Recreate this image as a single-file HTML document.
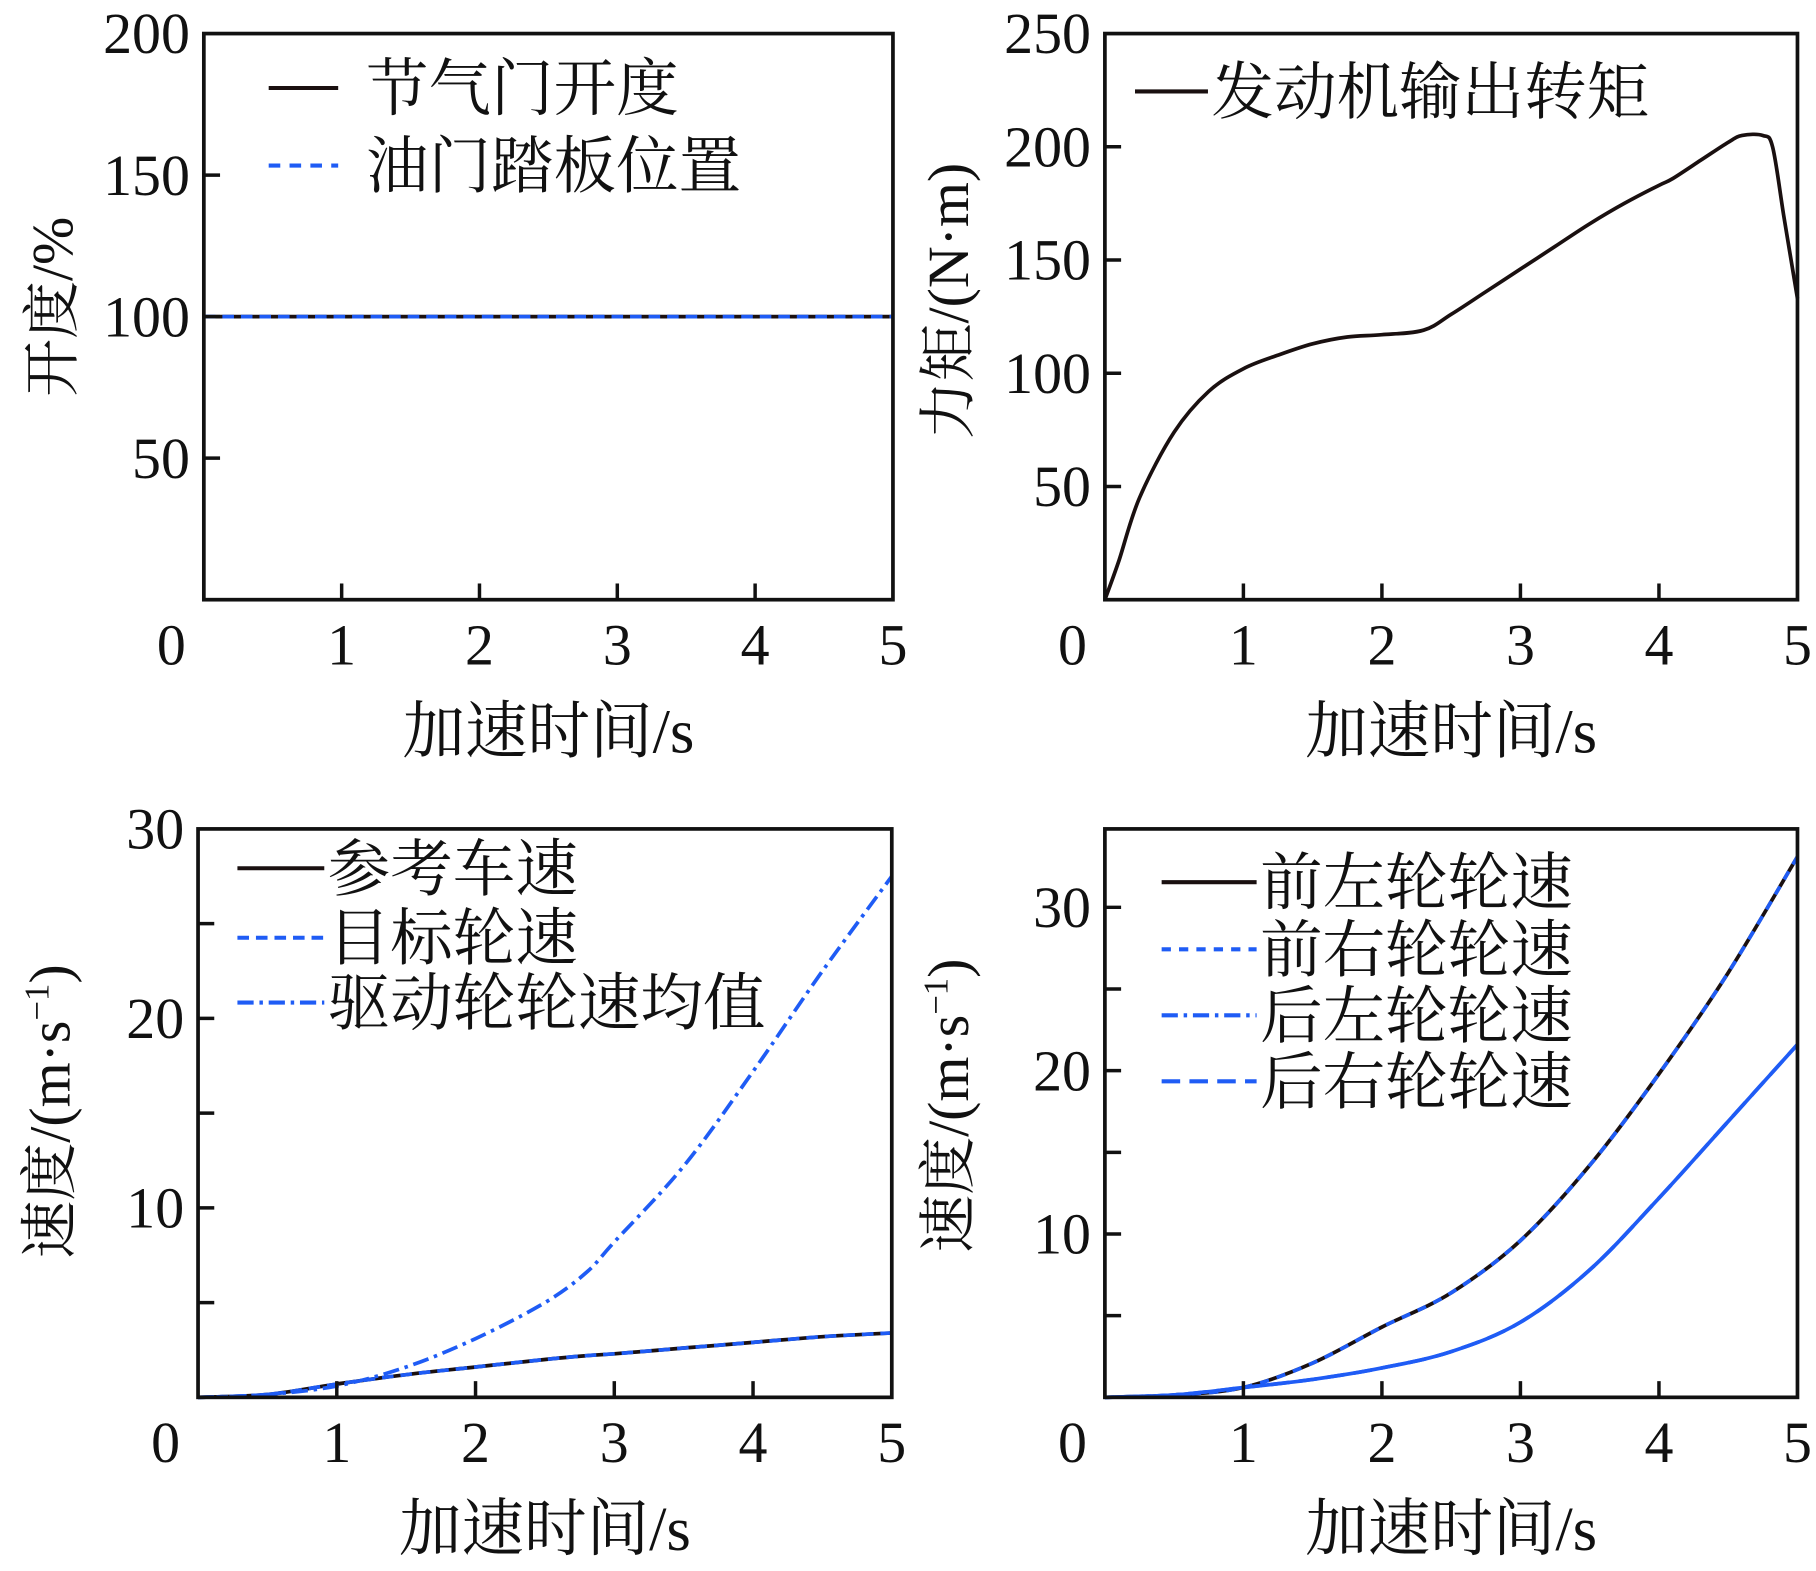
<!DOCTYPE html>
<html><head><meta charset="utf-8"><style>
html,body{margin:0;padding:0;background:#fff;}
svg{display:block;}
text{font-family:"Liberation Serif","Noto Serif CJK SC",serif;fill:#111;}
</style></head><body>
<svg id="fig" width="1816" height="1571" viewBox="0 0 1568 1357" preserveAspectRatio="none" xmlns="http://www.w3.org/2000/svg"></svg>
<script>
// Panel A: throttle
const tA = [0, 5];
const throttleVals = [100, 100];
const pedalVals = [100, 100];
const ticksA = [50, 100, 150, 200];
// Panel B: torque
const tB = [0,0.1,0.25,0.5,0.75,1,1.25,1.5,1.75,2,2.3,2.5,2.75,3,3.25,3.5,3.75,4,4.1,4.3,4.5,4.6,4.75,4.82,4.9,5];
const torqueVals = [0,17,45,74,92,102,108,113,116,117,119,126,136,146,156,166,175,183,186,194,202,205,205,200,170,133];
const ticksB = [50,100,150,200,250];
// Panel C
const tC = [0,0.5,1,1.5,2,2.5,2.8,3,3.5,4,4.5,5];
const refSpeed = [0,0.15,0.7,1.2,1.6,2.0,2.2,2.3,2.6,2.9,3.2,3.4];
const targetSpeed = [0,0.15,0.7,1.2,1.6,2.0,2.2,2.3,2.6,2.9,3.2,3.4];
const driveAvg = [0,0.15,0.6,1.6,3.1,5.0,6.6,8.2,12.2,17.2,22.5,27.5];
const ticksC = [10,20,30];
// Panel D
const tD = [0,0.5,1,1.5,2,2.5,3,3.5,4,4.5,5];
const frontLeft = [0,0.15,0.6,2.1,4.3,6.4,9.6,14.2,19.8,26,33.1];
const frontRight = [0,0.15,0.6,2.1,4.3,6.4,9.6,14.2,19.8,26,33.1];
const rearLeft = [0,0.15,0.6,1.1,1.8,2.8,4.6,7.8,12.2,16.9,21.6];
const rearRight = [0,0.15,0.6,1.1,1.8,2.8,4.6,7.8,12.2,16.9,21.6];
const ticksD = [10,20,30];
const xTicks = [0,1,2,3,4,5];

const NS="http://www.w3.org/2000/svg";
const svg=document.getElementById('fig');
const BLK="#1a1010", BLUE="#1f5cf5";
function mk(tag,attrs,parent){const e=document.createElementNS(NS,tag);for(const k in attrs)e.setAttribute(k,attrs[k]);(parent||svg).appendChild(e);return e;}
function smooth(pts){
  if(pts.length<3) return pts.map((p,i)=>(i?'L':'M')+p[0].toFixed(1)+','+p[1].toFixed(1)).join('');
  let d='M'+pts[0][0].toFixed(1)+','+pts[0][1].toFixed(1);
  for(let i=0;i<pts.length-1;i++){
    const p0=pts[Math.max(i-1,0)],p1=pts[i],p2=pts[i+1],p3=pts[Math.min(i+2,pts.length-1)];
    const c1=[p1[0]+(p2[0]-p0[0])/6,p1[1]+(p2[1]-p0[1])/6];
    const c2=[p2[0]-(p3[0]-p1[0])/6,p2[1]-(p3[1]-p1[1])/6];
    d+='C'+c1.map(v=>v.toFixed(1)).join(',')+' '+c2.map(v=>v.toFixed(1)).join(',')+' '+p2[0].toFixed(1)+','+p2[1].toFixed(1);
  }
  return d;
}

function panel(o){
  const g=mk('g',{});
  
  
  const sx=v=>o.x0+(v/5)*(o.x1-o.x0);
  const sy=v=>o.y1-(v/o.ymax)*(o.y1-o.y0);
  o.series.forEach(s=>{
    const pts=s.x.map((t,i)=>[sx(t),sy(s.y[i])]);
    const p=mk('path',{d:smooth(pts),fill:'none',stroke:s.c,'stroke-width':3.2,'stroke-dasharray':s.dash||'none'},g);
    
    
  });
  const fr=mk('rect',{x:o.x0,y:o.y0,width:o.x1-o.x0,height:o.y1-o.y0,fill:'none',stroke:'#111','stroke-width':3.2},g);
  
  
  xTicks.forEach(v=>{
    if(v>0&&v<5) mk('line',{x1:sx(v),x2:sx(v),y1:o.y1,y2:o.y1-14,stroke:'#111','stroke-width':3},g);
    const t=mk('text',{x:v==0?o.x0-28:sx(v),y:o.y1+56,'font-size':50,'text-anchor':'middle'},g);
    t.textContent=v;
    
    
  });
  o.ticks.forEach(v=>{
    if(sy(v)>o.y0+2) mk('line',{x1:o.x0,x2:o.x0+14,y1:sy(v),y2:sy(v),stroke:'#111','stroke-width':3},g);
    const t=mk('text',{x:o.x0-12,y:sy(v)+17,'font-size':50,'text-anchor':'end'},g);
    t.textContent=v;
    
    
  });
  (o.minor||[]).forEach(v=>mk('line',{x1:o.x0,x2:o.x0+14,y1:sy(v),y2:sy(v),stroke:'#111','stroke-width':3},g));
  const xl=mk('text',{x:(o.x0+o.x1)/2,y:o.y1+132,'font-size':54,'text-anchor':'middle'},g);
  xl.textContent='加速时间/s';
  
  
  const yl=mk('text',{x:0,y:0,'font-size':50,'text-anchor':'middle',transform:`translate(${o.ylx},${o.yly}) rotate(-90)`},g);
  yl.innerHTML=o.ylabel;
  
  
  o.legend.forEach(l=>{
    const lg=mk('g',{},g);
    
    
    mk('line',{x1:l.lx0,x2:l.lx1,y1:l.y,y2:l.y,stroke:l.c,'stroke-width':3.5,'stroke-dasharray':l.dash||'none'},lg);
    const t=mk('text',{x:l.tx,y:l.y+19,'font-size':54},lg);
    t.textContent=l.text;
  });
}

panel({name:'throttle-panel',x0:176,x1:771,y0:29,y1:518,ymax:200,ticks:ticksA,ylx:62,yly:265,ylabel:'开度/%',
  series:[{name:'throttle-line',x:tA,y:throttleVals,c:BLK},{name:'pedal-line',x:tA,y:pedalVals,c:BLUE,dash:'10,6'}],
  legend:[{lx0:232,lx1:292,y:76,c:BLK,tx:316,text:'节气门开度'},{lx0:232,lx1:292,y:143,c:BLUE,dash:'10,8',tx:316,text:'油门踏板位置'}]});
panel({name:'torque-panel',x0:954,x1:1552,y0:29,y1:518,ymax:250,ticks:ticksB,ylx:836,yly:260,ylabel:'力矩/(N·m)',
  series:[{name:'torque-line',x:tB,y:torqueVals,c:BLK}],
  legend:[{lx0:980,lx1:1043,y:79,c:BLK,tx:1046,text:'发动机输出转矩'}]});
panel({name:'speed-panel-left',x0:171,x1:770,y0:716,y1:1207,ymax:30,ticks:ticksC,minor:[5,15,25],ylx:60,yly:960,ylabel:'速度/(m·s<tspan dy="-18" font-size="30">−1</tspan><tspan dy="18">)</tspan>',
  series:[{name:'reference-speed-line',x:tC,y:refSpeed,c:BLK},{name:'target-wheel-speed-line',x:tC,y:targetSpeed,c:BLUE,dash:'10,6'},{name:'drive-wheel-avg-line',x:tC,y:driveAvg,c:BLUE,dash:'14,5,3,5'}],
  legend:[{lx0:205,lx1:280,y:750,c:BLK,tx:283,text:'参考车速'},{lx0:205,lx1:280,y:810,c:BLUE,dash:'10,6',tx:283,text:'目标轮速'},{lx0:205,lx1:280,y:866,c:BLUE,dash:'14,5,3,5',tx:283,text:'驱动轮轮速均值'}]});
panel({name:'speed-panel-right',x0:954,x1:1552,y0:716,y1:1207,ymax:34.8,ticks:ticksD,minor:[5,15,25],ylx:836,yly:955,ylabel:'速度/(m·s<tspan dy="-18" font-size="30">−1</tspan><tspan dy="18">)</tspan>',
  series:[{name:'front-left-line',x:tD,y:frontLeft,c:BLK},{name:'front-right-line',x:tD,y:frontRight,c:BLUE,dash:'8,7'},{name:'rear-left-line',x:tD,y:rearLeft,c:BLUE},{name:'rear-right-line',x:tD,y:rearRight,c:BLUE,dash:'16,8'}],
  legend:[{lx0:1003,lx1:1085,y:762,c:BLK,tx:1088,text:'前左轮轮速'},{lx0:1003,lx1:1085,y:820,c:BLUE,dash:'8,7',tx:1088,text:'前右轮轮速'},{lx0:1003,lx1:1085,y:877,c:BLUE,dash:'14,5,3,5',tx:1088,text:'后左轮轮速'},{lx0:1003,lx1:1085,y:934,c:BLUE,dash:'16,8',tx:1088,text:'后右轮轮速'}]});
</script>
</body></html>
